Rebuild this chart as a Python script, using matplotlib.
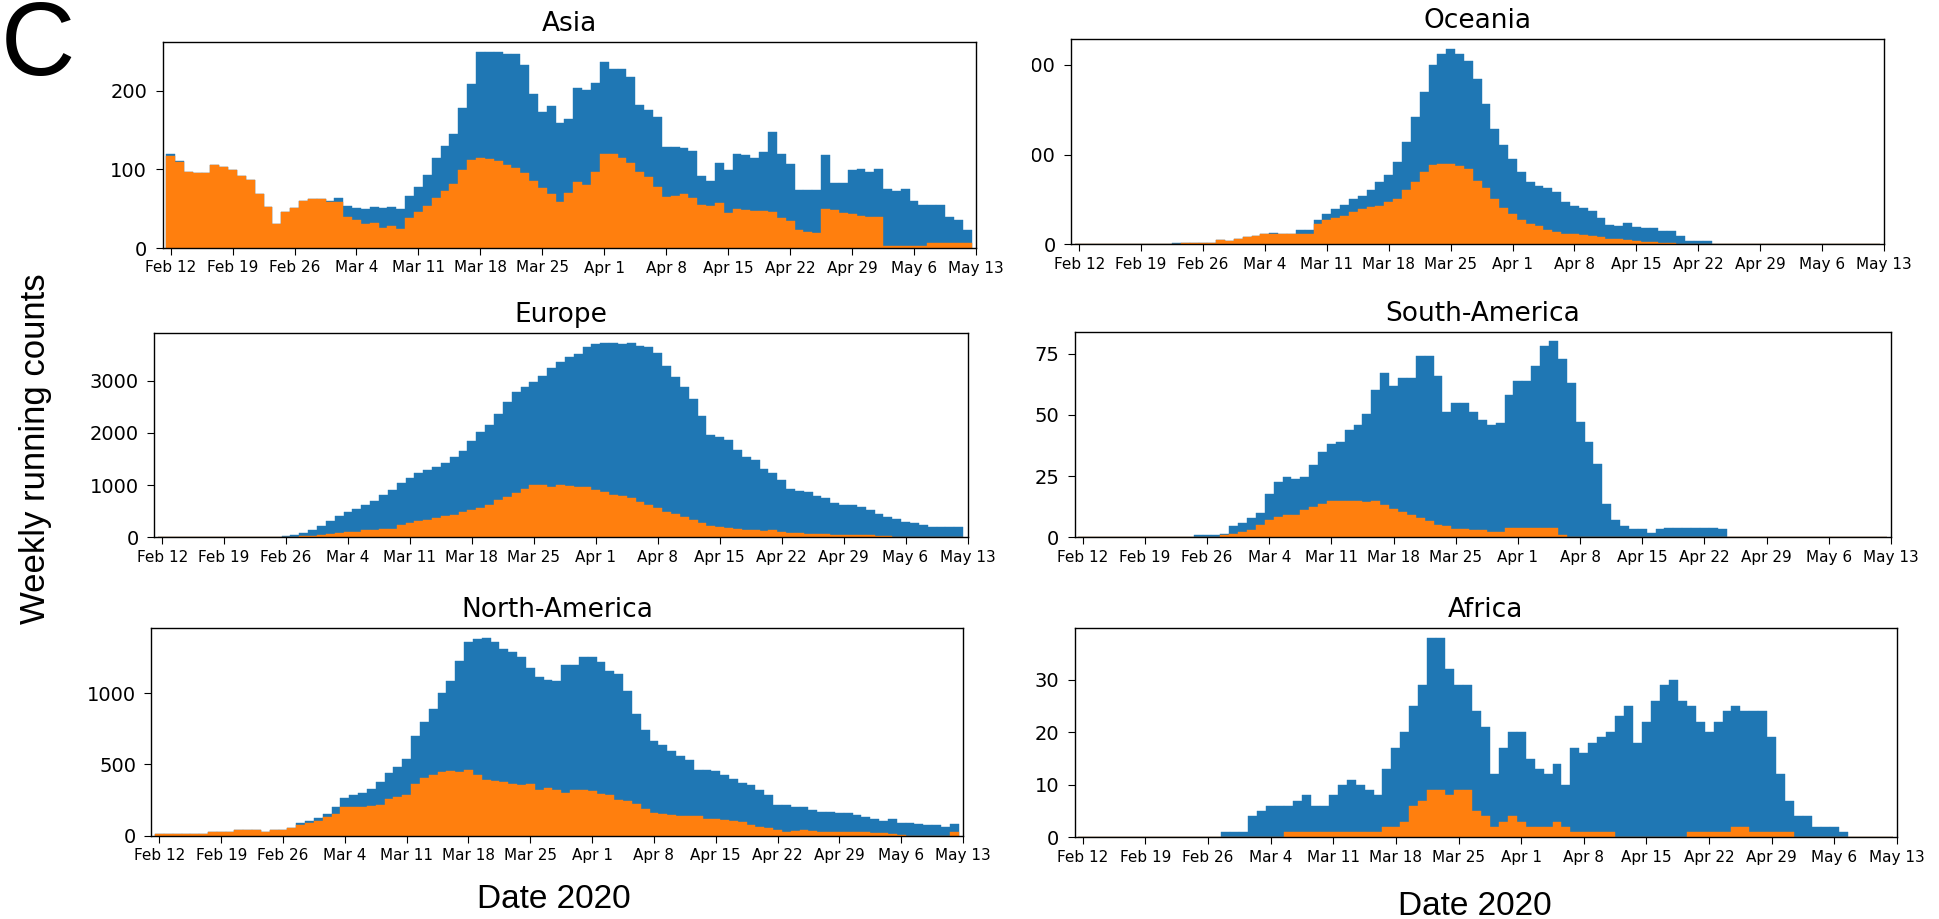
import datetime
import matplotlib
matplotlib.use("Agg")
import matplotlib.pyplot as plt
import matplotlib.dates as mdates
from matplotlib.patches import Rectangle
from matplotlib.ticker import MaxNLocator

# daily bars, Feb 12 .. May 12 2020 (91 days)
start = datetime.date(2020, 2, 12)
days = [start + datetime.timedelta(days=i) for i in range(91)]
tick_days = [start + datetime.timedelta(days=7 * i) for i in range(14)]
tick_labels = [f"{d:%b} {d.day}" for d in tick_days]

asia_total = [119, 110, 97, 95, 95, 105, 103, 99, 92, 87,
              69, 52, 30, 46, 51, 60, 62, 62, 60, 64,
              53, 51, 49, 52, 51, 52, 50, 66, 78, 93,
              114, 130, 145, 178, 208, 249, 249, 249, 247, 246,
              232, 196, 173, 180, 159, 164, 203, 201, 210, 237,
              228, 227, 217, 182, 175, 167, 129, 129, 127, 123,
              92, 85, 108, 99, 119, 118, 115, 122, 147, 120,
              107, 74, 74, 74, 118, 82, 82, 99, 101, 96,
              101, 75, 73, 75, 60, 55, 55, 55, 39, 36,
              23]
asia_sub = [117, 109, 96, 95, 95, 105, 103, 99, 92, 87,
            69, 52, 30, 46, 51, 60, 62, 62, 59, 58,
            39, 36, 31, 32, 25, 28, 24, 38, 46, 53,
            64, 73, 81, 99, 112, 114, 113, 110, 106, 102,
            95, 85, 76, 68, 58, 70, 84, 80, 96, 119,
            119, 115, 108, 97, 90, 78, 65, 66, 69, 63,
            55, 54, 57, 45, 49, 48, 47, 47, 46, 38,
            34, 23, 20, 19, 49, 48, 45, 43, 41, 40,
            39, 3, 3, 3, 3, 3, 6, 6, 6, 6,
            6]

oceania_total = [0] * 11 + [2, 2, 2, 2, 2, 5, 4, 6, 8, 9,
                            12, 13, 12, 12, 16, 16, 27, 34, 39, 44,
                            50, 54, 61, 70, 77, 92, 114, 142, 170, 200,
                            212, 218, 212, 204, 184, 156, 129, 111, 95, 81,
                            70, 65, 63, 58, 47, 43, 41, 37, 29, 22,
                            20, 24, 19, 18, 18, 15, 15, 9, 4, 4,
                            4] + [0] * 19
oceania_sub = [0] * 12 + [2, 2, 2, 2, 5, 4, 6, 8, 9,
                          12, 12, 11, 11, 12, 12, 23, 27, 29, 32,
                          36, 39, 42, 43, 47, 51, 60, 69, 81, 88,
                          89, 89, 87, 84, 71, 63, 51, 41, 34, 27,
                          23, 20, 16, 14, 12, 12, 10, 9, 8, 6,
                          6, 5, 4, 3, 3, 2, 2] + [0] * 23

europe_total = [0] * 13 + [10, 32, 50, 83, 134, 210, 306,
                           415, 478, 542, 612, 702, 817, 900, 1040, 1135, 1231,
                           1295, 1346, 1423, 1538, 1646, 1837, 2010, 2156, 2367, 2587,
                           2778, 2873, 2969, 3096, 3242, 3350, 3445, 3509, 3636, 3700,
                           3719, 3719, 3700, 3719, 3655, 3650, 3528, 3274, 3064, 2873,
                           2651, 2314, 1952, 1920, 1856, 1678, 1538, 1475, 1316, 1233,
                           1106, 934, 884, 871, 788, 744, 661, 617, 617, 572,
                           521, 445, 394, 343, 299, 267, 235, 203, 191, 191,
                           191]
europe_sub = [0] * 16 + [20, 30, 50, 70,
                         83, 95, 108, 134, 147, 160, 160, 230, 274, 306,
                         338, 370, 402, 434, 485, 530, 561, 625, 720, 775,
                         852, 915, 998, 998, 966, 998, 979, 966, 954, 903,
                         871, 807, 788, 744, 680, 617, 553, 490, 445, 394,
                         331, 267, 222, 191, 172, 153, 140, 140, 127, 140,
                         108, 89, 76, 64, 57, 57, 44, 38, 38, 38,
                         38, 25, 25] + [0] * 8

samerica_total = [0] * 13 + [1, 1, 1, 1.5, 4.5, 6, 8,
                             10, 17.5, 22.6, 24.6, 24, 24.6, 29.4, 35, 38, 39,
                             43.7, 46, 50.3, 60, 67, 62, 65, 65, 74, 74,
                             66, 51, 55, 55, 51, 48, 46, 46.5, 58, 64,
                             64, 70, 78, 80, 73, 63, 47, 39, 30, 13.5,
                             7, 4.6, 3.3, 3.3, 1.6, 3.3, 4, 4, 4, 4,
                             4, 4, 3.3] + [0] * 18
samerica_sub = [0] * 16 + [1, 1.5, 2, 3,
                           5, 7, 8.3, 9.3, 9, 11, 12.4, 13.7, 14.7, 15,
                           15, 14.8, 14.4, 14.7, 13, 11.7, 10.3, 9, 7.9, 6.5,
                           4.9, 4.5, 3.5, 3.3, 2.9, 3, 2, 2, 4, 4,
                           4, 4, 4, 4, 1, 0.3] + [0] * 35

namerica_total = [14, 14, 14, 14, 14, 14, 26, 26, 26, 37,
                  37, 37, 26, 37, 37, 54, 89, 100, 124, 152,
                  201, 264, 287, 299, 327, 374, 439, 479, 540, 703,
                  801, 890, 1004, 1089, 1226, 1362, 1378, 1390, 1357, 1310,
                  1287, 1256, 1175, 1117, 1093, 1082, 1200, 1200, 1252, 1252,
                  1221, 1158, 1135, 1012, 855, 739, 662, 634, 594, 557,
                  529, 464, 459, 452, 429, 401, 371, 354, 319, 284,
                  214, 214, 203, 198, 179, 168, 168, 156, 161, 145,
                  128, 114, 105, 114, 91, 91, 79, 75, 75, 63,
                  79]
namerica_sub = [14, 14, 14, 14, 14, 14, 26, 26, 26, 37,
                37, 37, 26, 37, 37, 54, 72, 89, 105, 128,
                152, 199, 199, 199, 206, 217, 259, 269, 283, 364,
                404, 427, 446, 451, 446, 463, 427, 392, 381, 378,
                366, 354, 361, 324, 338, 319, 303, 319, 319, 312,
                296, 284, 254, 245, 221, 184, 161, 152, 145, 140,
                140, 140, 117, 117, 110, 105, 93, 75, 58, 51,
                40, 28, 35, 40, 35, 28, 28, 26, 26, 26,
                23, 21, 16, 9, 5, 0, 0, 0, 0, 0,
                28]

africa_total = [0] * 16 + [1, 1, 1, 4,
                           5, 6, 6, 6, 7, 8, 6, 6, 8, 10,
                           11, 10, 9, 8, 13, 17, 20, 25, 29, 38,
                           38, 32, 29, 29, 24, 21, 12, 17, 20, 20,
                           15, 13, 12, 14, 10, 17, 16, 18, 19, 20,
                           23, 25, 18, 22, 26, 29, 30, 26, 25, 22,
                           20, 22, 24, 25, 24, 24, 24, 19, 12, 7,
                           4, 4, 2, 2, 2, 1] + [0] * 5
africa_sub = [0] * 23 + [1, 1, 1, 1, 1, 1, 1,
                         1, 1, 1, 1, 2, 2, 3, 6, 7, 9,
                         9, 8, 9, 9, 5, 4, 2, 3, 4, 3,
                         2, 2, 2, 3, 2, 1, 1, 1, 1, 1,
                         0, 0, 0, 0, 0, 0, 0, 0, 1, 1,
                         1, 1, 1, 2, 2, 1, 1, 1, 1, 1] + [0] * 11

BLUE = "#1f77b4"
ORANGE = "#ff7f0e"
W, H = 1939, 919

plt.rcParams["axes.linewidth"] = 1.0
fig = plt.figure(figsize=(W / 100, H / 100), dpi=100)


def px_axes(left, right, top, bottom):
    return fig.add_axes([left / W, 1 - bottom / H, (right - left) / W, (bottom - top) / H])


def draw_panel(ax, title, total, sub):
    x = mdates.date2num(days)
    ax.bar(x, total, width=1.0, color=BLUE, edgecolor=BLUE, linewidth=0.3)
    ax.bar(x, sub, width=1.0, color=ORANGE, edgecolor=ORANGE, linewidth=0.3)
    tx = mdates.date2num(tick_days)
    ax.set_xlim(tx[0] - 0.92, tx[-1])
    ax.set_xticks(tx)
    ax.set_xticklabels(tick_labels, fontsize=11)
    ax.yaxis.set_major_locator(MaxNLocator(4, steps=[1, 2.5, 5, 10]))
    ax.tick_params(axis="x", length=5, pad=4)
    ax.tick_params(axis="y", labelsize=14, length=5, pad=6)
    ax.set_title(title, fontsize=19, pad=8)


panels = [
    ("Asia", asia_total, asia_sub, (162.5, 976, 42.3, 248)),
    ("Oceania", oceania_total, oceania_sub, (1071, 1884, 39, 244.3)),
    ("Europe", europe_total, europe_sub, (154, 967.5, 333.3, 537.3)),
    ("South-America", samerica_total, samerica_sub, (1074.5, 1891, 331.7, 537.3)),
    ("North-America", namerica_total, namerica_sub, (151.3, 963, 627.7, 835.7)),
    ("Africa", africa_total, africa_sub, (1074.5, 1897, 627.7, 837.3)),
]
for name, total, sub, rect in panels:
    ax = px_axes(*rect)
    draw_panel(ax, name, total, sub)

# the source image cuts off the leading digit of the Oceania y labels
fig.add_artist(Rectangle((990 / W, 1 - 240 / H), 41.5 / W, 195 / H,
                         transform=fig.transFigure, facecolor="white",
                         edgecolor="none", zorder=10))

fig.text(1 / W, 1 - 48 / H, "C", fontsize=74, family="Liberation Sans",
         ha="left", va="center")
fig.text(36 / W, 1 - 449 / H, "Weekly running counts", fontsize=25,
         family="Liberation Sans", rotation=90, ha="center", va="center")
fig.text(554 / W, 1 - 908 / H, "Date 2020", fontsize=24,
         family="Liberation Sans", ha="center", va="baseline")
fig.text(1475 / W, 1 - 915 / H, "Date 2020", fontsize=24,
         family="Liberation Sans", ha="center", va="baseline")

fig.savefig("out.png", dpi=100)
